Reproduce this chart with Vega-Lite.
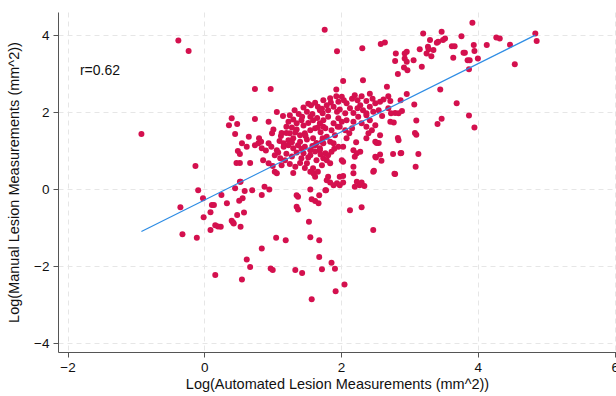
{
  "$schema": "https://vega.github.io/schema/vega-lite/v6.json",
  "width": 558,
  "height": 340,
  "autosize": {"type": "none"},
  "padding": {"left": 58, "top": 12, "right": 0, "bottom": 44},
  "background": "white",
  "config": {
    "view": {"stroke": null},
    "font": "Liberation Sans",
    "axis": {
      "labelFont": "Liberation Sans",
      "titleFont": "Liberation Sans",
      "labelFontSize": 13.5,
      "titleFontSize": 14.5,
      "titleFontWeight": "normal",
      "labelColor": "#111",
      "titleColor": "#111",
      "domainColor": "#555",
      "tickColor": "#555",
      "tickSize": 5,
      "grid": true,
      "gridColor": "#e6e6e6",
      "gridDash": [5, 4],
      "gridWidth": 1
    }
  },
  "datasets": {
    "pts": [
      {"a":-0.92,"m":1.43},{"a":-0.38,"m":3.86},{"a":-0.23,"m":3.59},{"a":-0.13,"m":0.60},{"a":-0.09,"m":-0.03},{"a":-0.02,"m":-0.24},{"a":-0.01,"m":-0.73},{"a":-0.35,"m":-0.47},{"a":-0.32,"m":-1.17},{"a":-0.11,"m":-1.26},
      {"a":0.09,"m":-0.60},{"a":0.11,"m":-0.41},{"a":0.14,"m":-0.41},{"a":0.09,"m":-1.06},{"a":0.16,"m":-0.94},{"a":0.24,"m":-0.98},{"a":0.20,"m":-0.97},{"a":0.25,"m":-0.15},{"a":0.33,"m":-0.37},{"a":0.40,"m":-0.82},
      {"a":0.42,"m":-0.87},{"a":0.43,"m":-0.89},{"a":0.48,"m":-0.67},{"a":0.45,"m":0.02},{"a":0.51,"m":-0.30},{"a":0.53,"m":-0.98},{"a":0.56,"m":-0.24},{"a":0.58,"m":-0.61},{"a":0.59,"m":-0.05},{"a":0.70,"m":-0.03},
      {"a":0.53,"m":0.19},{"a":0.62,"m":-1.83},{"a":0.67,"m":-2.02},{"a":0.16,"m":-2.23},{"a":0.55,"m":-2.35},{"a":0.88,"m":0.06},{"a":0.95,"m":-0.01},{"a":0.84,"m":-0.15},{"a":1.35,"m":-0.16},{"a":1.37,"m":-0.20},
      {"a":1.35,"m":-0.46},{"a":1.37,"m":-0.53},{"a":1.55,"m":-0.01},{"a":1.57,"m":-0.26},{"a":1.62,"m":-0.31},{"a":1.67,"m":-0.37},{"a":1.68,"m":-0.16},{"a":1.78,"m":-0.03},{"a":2.13,"m":-0.55},{"a":2.30,"m":-0.47},
      {"a":2.47,"m":-1.06},{"a":1.53,"m":-0.85},{"a":1.05,"m":-1.26},{"a":1.19,"m":-1.33},{"a":1.55,"m":-1.25},{"a":1.68,"m":-1.33},{"a":0.84,"m":-1.54},{"a":1.68,"m":-1.76},{"a":1.86,"m":-1.91},{"a":0.97,"m":-2.06},
      {"a":1.00,"m":-2.10},{"a":1.33,"m":-2.10},{"a":1.43,"m":-2.18},{"a":1.72,"m":-2.08},{"a":1.91,"m":-2.07},{"a":2.05,"m":-2.48},{"a":1.92,"m":-2.65},{"a":1.57,"m":-2.86},
      {"a":1.81,"m":0.32},{"a":1.79,"m":0.23},{"a":1.84,"m":0.17},{"a":1.89,"m":0.10},{"a":1.94,"m":0.15},{"a":1.98,"m":0.10},{"a":2.03,"m":0.17},{"a":2.23,"m":0.19},{"a":2.27,"m":0.10},{"a":2.30,"m":0.17},
      {"a":2.34,"m":0.08},{"a":2.20,"m":0.06},{"a":1.98,"m":0.32},{"a":2.03,"m":0.34},{"a":2.18,"m":0.41},{"a":2.18,"m":0.58},{"a":2.47,"m":0.45},{"a":2.01,"m":0.75},{"a":2.03,"m":0.71},{"a":1.77,"m":-0.03},
      {"a":1.72,"m":1.23},{"a":1.84,"m":1.23},{"a":1.89,"m":1.19},{"a":1.96,"m":1.10},{"a":2.03,"m":1.10},{"a":1.69,"m":1.01},{"a":1.77,"m":0.93},{"a":1.81,"m":0.88},{"a":1.86,"m":0.97},{"a":1.74,"m":0.80},
      {"a":1.79,"m":0.75},{"a":1.84,"m":0.67},{"a":2.18,"m":1.01},{"a":2.23,"m":0.93},{"a":2.28,"m":0.97},{"a":2.20,"m":0.84},{"a":2.55,"m":1.20},{"a":2.50,"m":0.84},{"a":2.57,"m":0.90},{"a":2.59,"m":0.74},
      {"a":2.76,"m":0.91},{"a":2.87,"m":0.93},{"a":2.79,"m":0.39},{"a":2.84,"m":1.27},{"a":3.13,"m":0.91},{"a":3.09,"m":0.58},
      {"a":0.62,"m":1.10},{"a":0.74,"m":1.14},{"a":0.79,"m":1.19},{"a":0.84,"m":1.06},{"a":0.94,"m":1.19},{"a":0.98,"m":1.10},{"a":1.06,"m":1.01},{"a":1.16,"m":1.10},{"a":1.23,"m":1.14},{"a":1.30,"m":1.06},
      {"a":1.37,"m":1.14},{"a":1.47,"m":1.10},{"a":1.55,"m":1.01},{"a":1.62,"m":1.14},{"a":1.69,"m":1.06},{"a":1.74,"m":1.19},{"a":0.52,"m":0.68},{"a":0.67,"m":0.68},{"a":0.86,"m":0.75},{"a":0.94,"m":0.67},
      {"a":1.03,"m":0.88},{"a":1.11,"m":0.80},{"a":1.18,"m":0.75},{"a":1.25,"m":0.65},{"a":1.33,"m":0.58},{"a":1.42,"m":0.80},{"a":1.50,"m":0.67},{"a":1.55,"m":0.88},{"a":1.64,"m":0.75},{"a":1.72,"m":0.62},
      {"a":1.59,"m":0.54},{"a":1.03,"m":0.45},{"a":1.06,"m":0.41},{"a":1.30,"m":0.42},{"a":1.55,"m":0.45},{"a":1.62,"m":0.32},{"a":0.52,"m":0.19},
      {"a":0.40,"m":1.84},{"a":0.36,"m":1.66},{"a":0.48,"m":1.69},{"a":0.45,"m":1.43},{"a":0.65,"m":1.36},{"a":0.74,"m":2.60},{"a":0.49,"m":0.99},{"a":0.52,"m":0.91},{"a":0.47,"m":0.68},
      {"a":0.97,"m":2.60},{"a":1.06,"m":2.00},{"a":0.74,"m":1.82},{"a":0.94,"m":1.75},{"a":0.80,"m":1.32},{"a":0.83,"m":1.23},{"a":1.01,"m":1.55},{"a":0.99,"m":1.45},{"a":1.13,"m":1.46},{"a":1.20,"m":1.46},
      {"a":0.55,"m":1.19},{"a":1.25,"m":1.92},{"a":1.23,"m":1.75},{"a":1.30,"m":1.81},{"a":1.35,"m":1.71},{"a":1.42,"m":1.79},{"a":1.45,"m":2.12},{"a":1.50,"m":2.01},{"a":1.55,"m":1.88},{"a":1.59,"m":1.79},
      {"a":1.62,"m":2.24},{"a":1.66,"m":2.14},{"a":1.69,"m":2.05},{"a":1.73,"m":1.97},{"a":1.69,"m":1.71},{"a":1.74,"m":1.62},{"a":1.62,"m":1.58},{"a":1.55,"m":1.53},{"a":1.47,"m":1.45},{"a":1.40,"m":1.40},
      {"a":1.30,"m":1.32},{"a":1.23,"m":1.27},{"a":1.16,"m":1.19},{"a":1.40,"m":1.23},{"a":1.50,"m":1.29},{"a":1.59,"m":1.32},{"a":1.64,"m":1.20},{"a":1.73,"m":1.32},
      {"a":1.35,"m":1.55},{"a":1.45,"m":1.65},{"a":1.52,"m":1.72},{"a":1.58,"m":1.95},{"a":1.65,"m":1.85},{"a":1.38,"m":1.95},{"a":1.28,"m":1.60},{"a":1.20,"m":1.62},{"a":1.12,"m":1.38},{"a":1.33,"m":1.47},
      {"a":1.48,"m":1.38},{"a":1.70,"m":1.48},{"a":1.56,"m":2.18},{"a":1.43,"m":1.88},{"a":1.08,"m":0.95},{"a":1.20,"m":0.92},{"a":1.35,"m":0.95},{"a":1.45,"m":0.93},{"a":1.62,"m":0.98},{"a":1.70,"m":0.90},
      {"a":1.40,"m":0.68},{"a":1.28,"m":0.85},{"a":1.13,"m":0.62},{"a":1.60,"m":0.40},{"a":1.66,"m":0.45},
      {"a":1.15,"m":1.90},{"a":1.32,"m":2.05},{"a":1.52,"m":2.22},{"a":1.25,"m":1.45},{"a":1.10,"m":1.25},{"a":1.42,"m":1.05},{"a":1.52,"m":0.82},{"a":1.66,"m":1.60},{"a":1.58,"m":1.12},{"a":1.90,"m":1.05},
      {"a":1.95,"m":1.62},{"a":2.12,"m":1.45},{"a":2.22,"m":1.22},{"a":1.28,"m":1.22},{"a":0.90,"m":1.00},{"a":1.00,"m":0.60},{"a":1.47,"m":0.55},{"a":2.28,"m":2.18},{"a":1.85,"m":2.25},{"a":2.60,"m":1.90},
      {"a":1.76,"m":4.14},{"a":1.94,"m":3.58},{"a":2.31,"m":3.66},{"a":2.58,"m":3.77},{"a":2.64,"m":3.81},{"a":3.20,"m":4.04},{"a":3.47,"m":4.09},{"a":3.92,"m":4.32},{"a":3.52,"m":3.91},{"a":3.49,"m":3.87},
      {"a":3.40,"m":3.80},{"a":3.42,"m":3.83},{"a":3.30,"m":3.87},{"a":3.27,"m":3.70},{"a":3.28,"m":3.63},{"a":3.35,"m":3.61},{"a":3.15,"m":3.63},{"a":3.25,"m":3.52},{"a":3.32,"m":3.45},{"a":3.62,"m":3.71},
      {"a":3.66,"m":3.71},{"a":3.76,"m":3.97},{"a":3.94,"m":3.74},{"a":3.95,"m":3.59},{"a":3.81,"m":3.54},{"a":3.79,"m":3.54},{"a":3.64,"m":3.41},{"a":4.13,"m":3.74},{"a":4.27,"m":3.94},{"a":4.32,"m":3.91},
      {"a":4.00,"m":3.39},{"a":3.85,"m":3.35},{"a":3.88,"m":3.35},{"a":3.87,"m":3.11},{"a":4.47,"m":3.75},{"a":4.84,"m":4.04},{"a":4.86,"m":3.85},{"a":4.54,"m":3.24},
      {"a":2.80,"m":3.52},{"a":2.96,"m":3.57},{"a":2.93,"m":3.52},{"a":2.93,"m":3.39},{"a":2.96,"m":3.31},{"a":2.79,"m":3.33},{"a":2.83,"m":2.99},{"a":2.97,"m":3.09},{"a":2.92,"m":3.16},{"a":3.06,"m":3.35},
      {"a":3.18,"m":3.18},{"a":3.45,"m":2.59},{"a":3.69,"m":2.23},{"a":2.96,"m":2.47},{"a":2.87,"m":2.31},{"a":3.07,"m":2.20},{"a":2.89,"m":2.03},{"a":2.79,"m":1.98},{"a":3.10,"m":1.78},{"a":3.41,"m":1.69},
      {"a":3.47,"m":1.83},{"a":3.87,"m":1.91},{"a":3.95,"m":1.60},{"a":2.32,"m":2.83},{"a":2.03,"m":2.81},{"a":1.93,"m":2.59},{"a":2.67,"m":2.66},{"a":3.08,"m":1.46},{"a":3.10,"m":1.41},{"a":2.83,"m":1.33},
      {"a":2.88,"m":0.94},{"a":2.78,"m":0.40},{"a":2.48,"m":0.48},{"a":2.52,"m":1.20},{"a":2.51,"m":0.82},{"a":2.77,"m":1.73},
      {"a":1.74,"m":2.31},{"a":1.79,"m":2.18},{"a":1.84,"m":2.36},{"a":1.93,"m":2.41},{"a":1.96,"m":2.27},{"a":2.01,"m":2.40},{"a":2.04,"m":2.31},{"a":2.08,"m":2.23},{"a":2.16,"m":2.35},{"a":2.20,"m":2.44},
      {"a":2.24,"m":2.31},{"a":2.30,"m":2.41},{"a":2.37,"m":2.29},{"a":2.42,"m":2.48},{"a":2.46,"m":2.35},{"a":2.50,"m":2.23},{"a":2.57,"m":2.27},{"a":2.62,"m":2.33},{"a":2.69,"m":2.41},{"a":2.72,"m":2.29},
      {"a":1.72,"m":2.09},{"a":1.81,"m":2.05},{"a":1.89,"m":2.14},{"a":1.94,"m":2.01},{"a":1.98,"m":2.07},{"a":2.06,"m":1.97},{"a":2.13,"m":2.10},{"a":2.18,"m":1.98},{"a":2.24,"m":2.10},{"a":2.32,"m":2.05},
      {"a":2.37,"m":1.97},{"a":2.42,"m":2.14},{"a":2.47,"m":2.01},{"a":2.55,"m":2.05},{"a":2.69,"m":2.10},{"a":2.73,"m":1.97},{"a":2.84,"m":1.97},{"a":1.74,"m":1.79},{"a":1.81,"m":1.88},{"a":1.89,"m":1.71},
      {"a":1.96,"m":1.84},{"a":2.01,"m":1.75},{"a":2.08,"m":1.79},{"a":2.18,"m":1.75},{"a":2.25,"m":1.88},{"a":2.30,"m":1.71},{"a":2.37,"m":1.92},{"a":2.42,"m":1.79},{"a":2.72,"m":1.75},{"a":1.77,"m":1.58},
      {"a":1.86,"m":1.53},{"a":1.98,"m":1.62},{"a":2.06,"m":1.53},{"a":2.16,"m":1.58},{"a":2.37,"m":1.62},{"a":2.45,"m":1.53},{"a":2.50,"m":1.66},{"a":2.40,"m":1.45},{"a":1.79,"m":1.36},{"a":1.91,"m":1.40},
      {"a":2.08,"m":1.32},{"a":2.37,"m":1.32},{"a":2.50,"m":1.23},{"a":2.57,"m":1.40}
    ],
    "fit": [{"a": -0.92, "m": -1.10}, {"a": 4.84, "m": 4.00}],
    "ann": [{"a": -1.82, "m": 3.06, "t": "r=0.62"}]
  },
  "encoding": {
    "x": {
      "field": "a", "type": "quantitative",
      "scale": {"domain": [-2.14, 6.02], "nice": false, "zero": false},
      "axis": {"values": [-2, 0, 2, 4, 6], "title": "Log(Automated Lesion Measurements (mm^2))", "titlePadding": 4, "labelPadding": 3}
    },
    "y": {
      "field": "m", "type": "quantitative",
      "scale": {"domain": [-4.23, 4.6], "nice": false, "zero": false},
      "axis": {"values": [-4, -2, 0, 2, 4], "title": "Log(Manual Lesion Measurements (mm^2))", "titlePadding": 12, "labelPadding": 4}
    }
  },
  "layer": [
    {
      "data": {"name": "pts"},
      "mark": {"type": "circle", "size": 36, "color": "#d4104e", "opacity": 1}
    },
    {
      "data": {"name": "fit"},
      "mark": {"type": "line", "color": "#2f8de4", "strokeWidth": 1.3}
    },
    {
      "data": {"name": "ann"},
      "mark": {"type": "text", "align": "left", "baseline": "middle", "fontSize": 14, "font": "Liberation Sans", "color": "#111"},
      "encoding": {"text": {"field": "t"}}
    }
  ]
}
